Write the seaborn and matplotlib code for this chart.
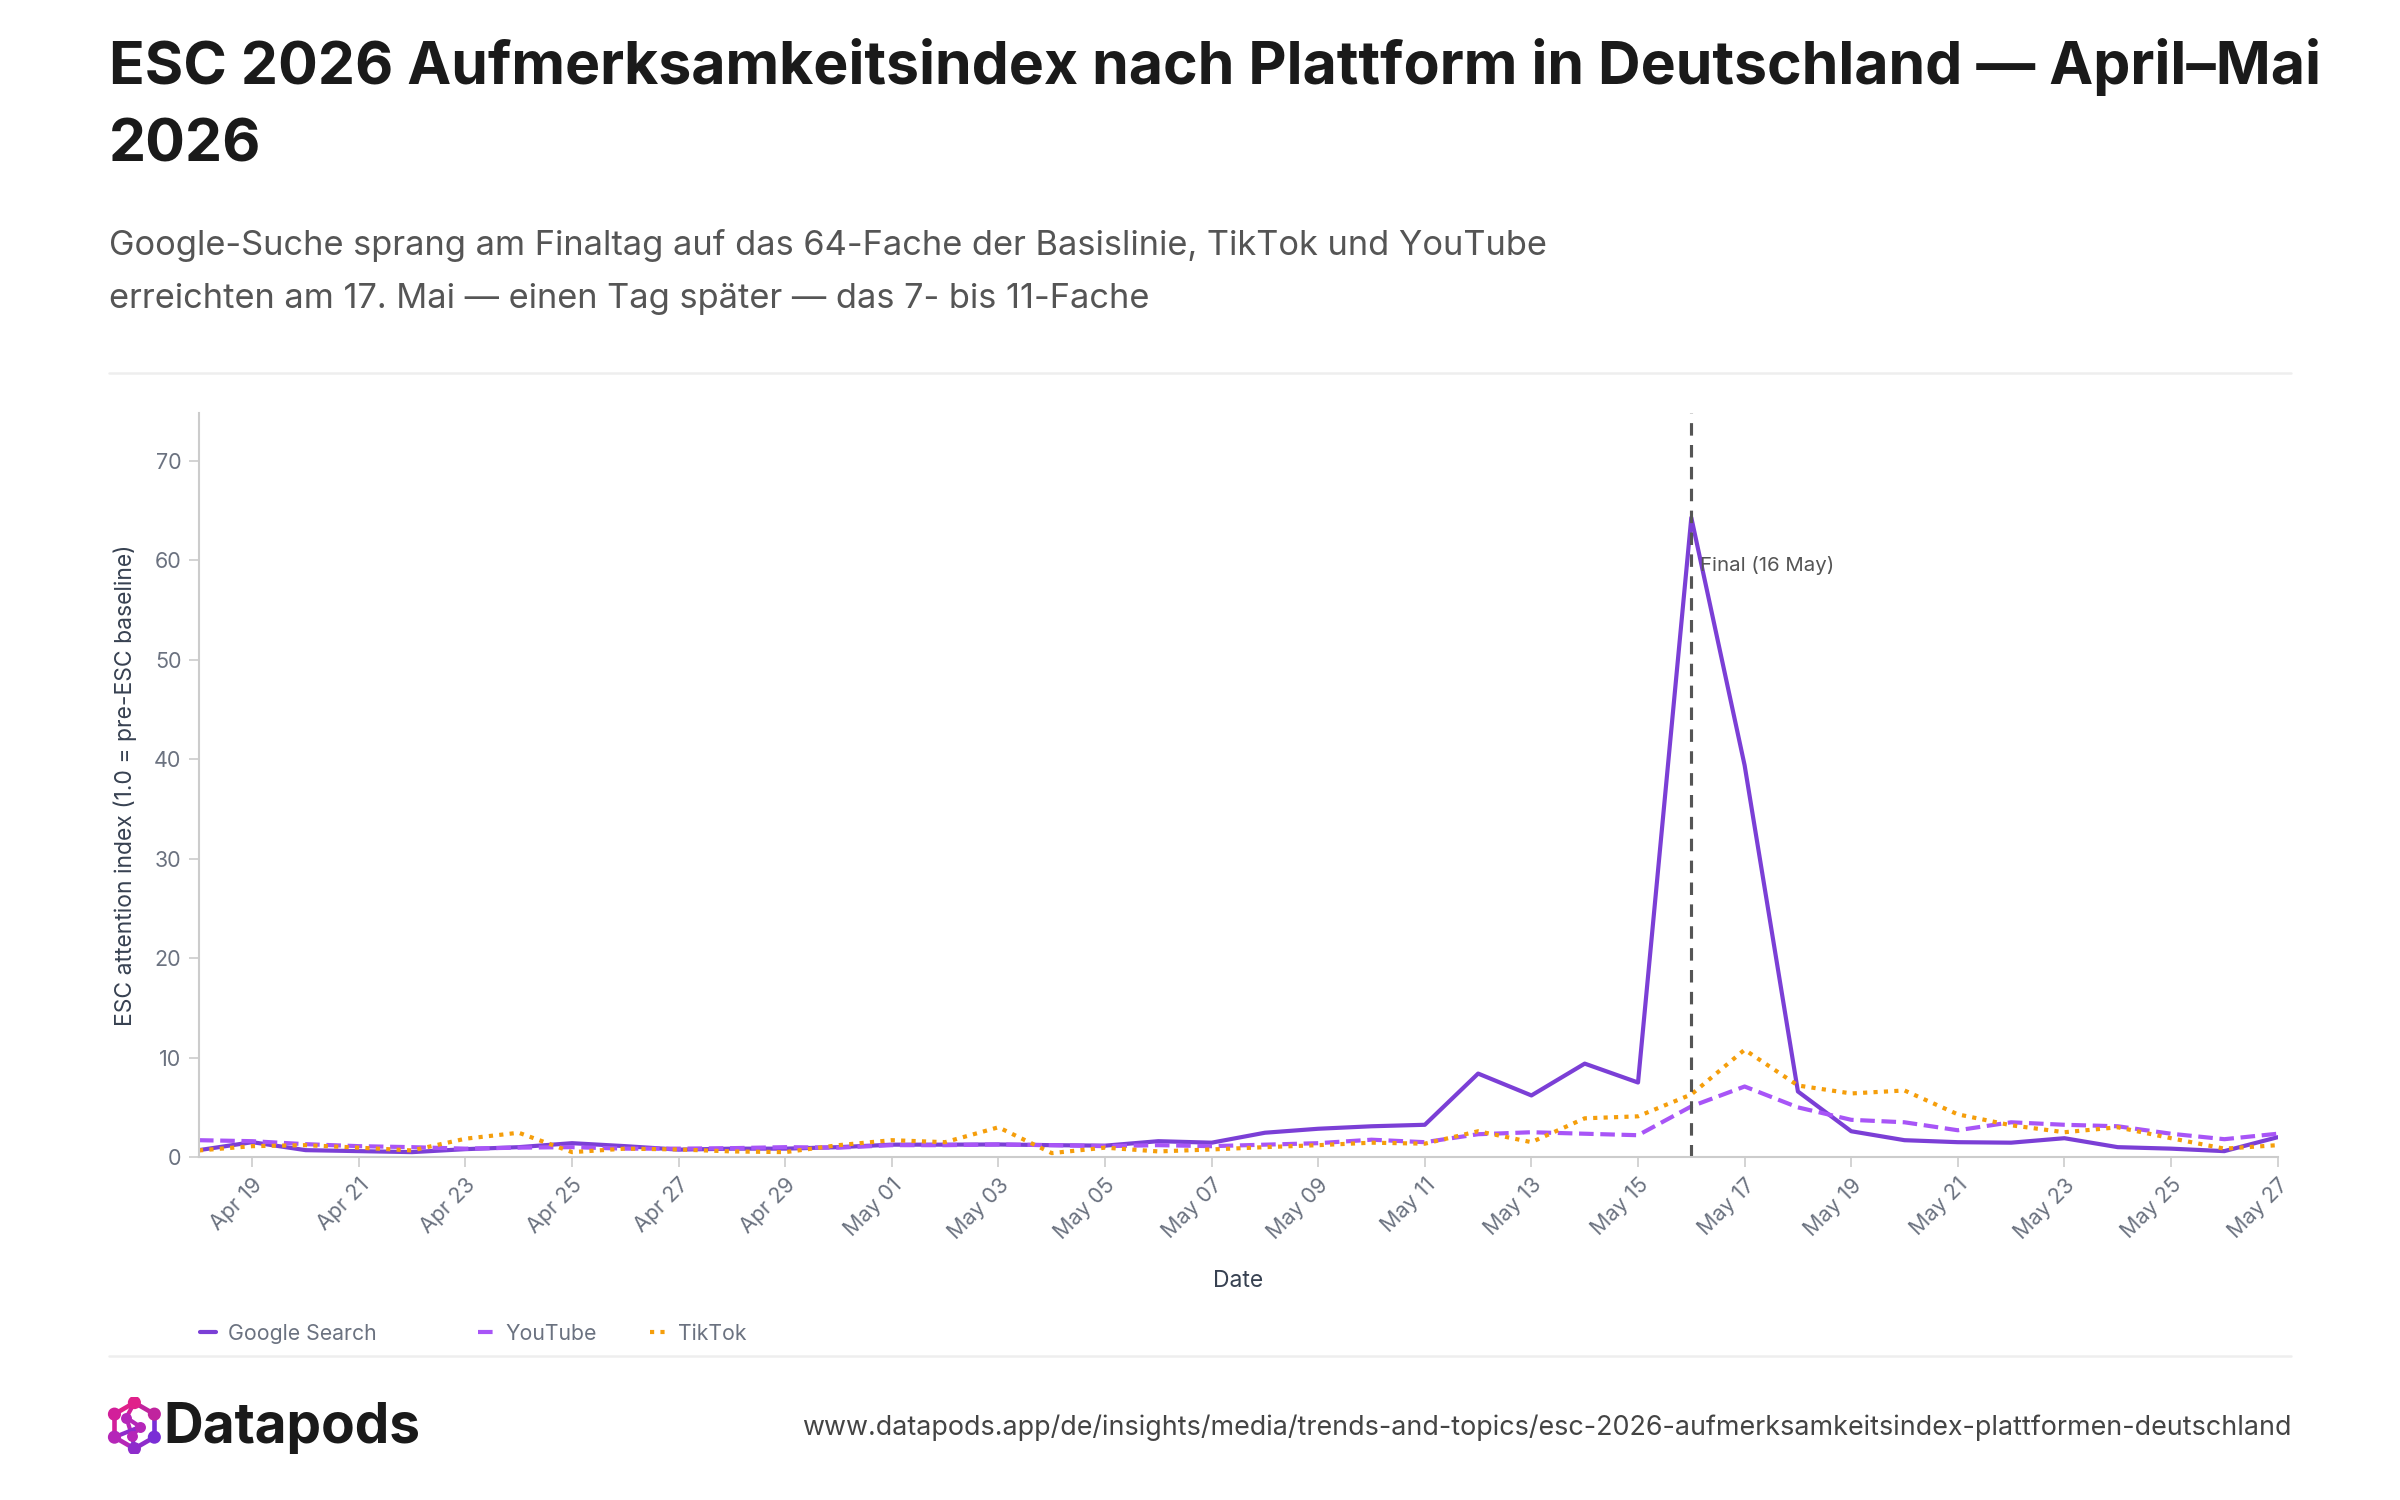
import numpy as np
import pandas as pd
import matplotlib
matplotlib.use("Agg")
import matplotlib.pyplot as plt
import matplotlib.dates as mdates
from matplotlib.lines import Line2D
import seaborn as sns

# ---------------- data ----------------
dates = pd.date_range("2026-04-18", "2026-05-27", freq="D")

google_search = [0.7, 1.5, 0.7, 0.6, 0.5, 0.8, 1.0, 1.4, 1.1, 0.75,
                 0.85, 0.85, 1.0, 1.25, 1.25, 1.27, 1.2, 1.15, 1.6, 1.45,
                 2.45, 2.85, 3.1, 3.25, 8.4, 6.2, 9.4, 7.5, 64.3, 39.4,
                 6.6, 2.6, 1.7, 1.5, 1.45, 1.9, 1.0, 0.85, 0.6, 2.0]
youtube = [1.7, 1.6, 1.3, 1.1, 1.0, 0.85, 0.95, 1.0, 0.85, 0.85,
           0.9, 1.0, 0.95, 1.2, 1.2, 1.27, 1.2, 1.1, 1.2, 1.1,
           1.25, 1.4, 1.75, 1.5, 2.3, 2.5, 2.35, 2.2, 5.1, 7.1,
           5.0, 3.75, 3.5, 2.7, 3.5, 3.25, 3.1, 2.35, 1.8, 2.35]
tiktok = [0.67, 1.1, 1.2, 0.95, 0.67, 1.85, 2.45, 0.5, 0.85, 0.77,
          0.57, 0.5, 1.2, 1.7, 1.5, 3.0, 0.4, 0.95, 0.57, 0.77,
          1.0, 1.2, 1.45, 1.35, 2.6, 1.5, 3.9, 4.1, 6.3, 10.8,
          7.2, 6.4, 6.7, 4.3, 3.2, 2.5, 3.0, 1.9, 0.85, 1.2]

platforms = ["Google Search", "YouTube", "TikTok"]
colors = {"Google Search": "#7B3FD6", "YouTube": "#A855F7", "TikTok": "#F59E0B"}
dash_styles = {"Google Search": "", "YouTube": (3.5, 1.6), "TikTok": (1.0, 1.5)}

final_date = pd.Timestamp("2026-05-16")
final_label = "Final (16 May)"

title = "ESC 2026 Aufmerksamkeitsindex nach Plattform in Deutschland — April–Mai\n2026"
subtitle = ("Google-Suche sprang am Finaltag auf das 64-Fache der Basislinie, TikTok und YouTube\n"
            "erreichten am 17. Mai — einen Tag später — das 7- bis 11-Fache")
url = "www.datapods.app/de/insights/media/trends-and-topics/esc-2026-aufmerksamkeitsindex-plattformen-deutschland"

df = pd.DataFrame({
    "Date": np.tile(dates, 3),
    "value": google_search + youtube + tiktok,
    "Platform": np.repeat(platforms, len(dates)),
})

# ---------------- style ----------------
sns.set_theme(style="white")
plt.rcParams["font.family"] = ["Inter", "DejaVu Sans"]

fig = plt.figure(figsize=(16, 10), dpi=150)
ax = fig.add_axes([0.0829, 0.2286, 0.949 - 0.0829, 0.7245 - 0.2286])

sns.lineplot(data=df, x="Date", y="value", hue="Platform", style="Platform",
             hue_order=platforms, style_order=platforms,
             palette=colors, dashes=dash_styles, linewidth=2.0, ax=ax)

ax.set_xlim(dates[0], dates[-1])
ax.set_ylim(0, 74.8)
ax.set_yticks([0, 10, 20, 30, 40, 50, 60, 70])

ax.xaxis.set_major_locator(mdates.DayLocator(bymonthday=range(1, 32, 2)))
ax.xaxis.set_major_formatter(mdates.DateFormatter("%b %d"))

for s in ["top", "right"]:
    ax.spines[s].set_visible(False)
for s in ["left", "bottom"]:
    ax.spines[s].set_color("#cccccc")
    ax.spines[s].set_linewidth(1.0)

ax.tick_params(axis="both", which="major", length=5, width=0.8, color="#cccccc",
               labelcolor="#6b7280", labelsize=10.3, direction="out", bottom=True, left=True)
for lab in ax.get_xticklabels():
    lab.set_rotation(45)
    lab.set_ha("right")
    lab.set_rotation_mode("anchor")

ax.set_xlabel("Date", fontsize=11, color="#374151", labelpad=13)
ax.set_ylabel("ESC attention index (1.0 = pre-ESC baseline)", fontsize=11, color="#374151", labelpad=8)

# final marker
ax.axvline(final_date, color="#555555", linestyle=(0, (4, 3)), linewidth=1.5)
ax.text(final_date + pd.Timedelta(hours=4), 59.5, final_label, fontsize=9.8,
        color="#555555", ha="left", va="center")

# legend: one entry per item placed along the bottom
handles, labels = ax.get_legend_handles_labels()
ax.get_legend().remove()
leg_x = [0.0835, 0.1990, 0.2710]
for h, l, xpos in zip(handles, labels, leg_x):
    lg = fig.legend([h], [l], loc="center left", bbox_to_anchor=(xpos, 0.111),
                    frameon=False, fontsize=10.2, handlelength=0.75, handletextpad=0.55,
                    borderaxespad=0, borderpad=0)
    for t in lg.get_texts():
        t.set_color("#6b7280")

# titles
fig.text(0.0453, 0.975, title, fontsize=28.3, fontweight="bold", color="#1a1a1a",
         ha="left", va="top", linespacing=1.54)
fig.text(0.0453, 0.847, subtitle, fontsize=16.5, color="#555555",
         ha="left", va="top", linespacing=1.83)

# separators
fig.add_artist(Line2D([0.0453, 0.9547], [1 - 244 / 980] * 2, color="#eeeeee", linewidth=1.2))
fig.add_artist(Line2D([0.0453, 0.9547], [1 - 886 / 980] * 2, color="#eeeeee", linewidth=1.2))

# footer logo
lax = fig.add_axes([0.0440, 1 - 952 / 980, 0.024, 0.042])
lax.set_aspect("equal")
lax.axis("off")
ang = np.deg2rad(np.arange(90, 450, 60))
vx, vy = np.cos(ang), np.sin(ang)
grad = ["#E0218A", "#D21F9A", "#B526B8", "#8E2CCB", "#7A2ED6", "#C0249E"]
for i in range(6):
    j = (i + 1) % 6
    lax.plot([vx[i], vx[j]], [vy[i], vy[j]], color=grad[i], lw=2.2, solid_capstyle="round")
inner = [(-0.35, 0.35), (0.25, -0.05), (-0.1, -0.45)]
for a, b in [(0, 1), (1, 2), (0, 2)]:
    lax.plot([inner[a][0], inner[b][0]], [inner[a][1], inner[b][1]], color="#B526B8", lw=2.0)
lax.plot([vx[0], inner[0][0]], [vy[0], inner[0][1]], color="#D21F9A", lw=2.0)
lax.plot([vx[2], inner[1][0]], [vy[2], inner[1][1]], color="#8E2CCB", lw=2.0)
lax.plot([vx[3], inner[2][0]], [vy[3], inner[2][1]], color="#7A2ED6", lw=2.0)
lax.scatter(vx, vy, s=28, c=grad, zorder=3)
lax.scatter([p[0] for p in inner], [p[1] for p in inner], s=18, c="#B526B8", zorder=3)
lax.set_xlim(-1.25, 1.25)
lax.set_ylim(-1.25, 1.25)

fig.text(0.068, 1 - 933 / 980, "Datapods", fontsize=26.4, fontweight="bold",
         color="#1a1a1a", ha="left", va="center")
fig.text(0.9547, 1 - 933 / 980, url, fontsize=12.9, color="#444444",
         ha="right", va="center")

fig.savefig("out.png", dpi=150, facecolor="white")
